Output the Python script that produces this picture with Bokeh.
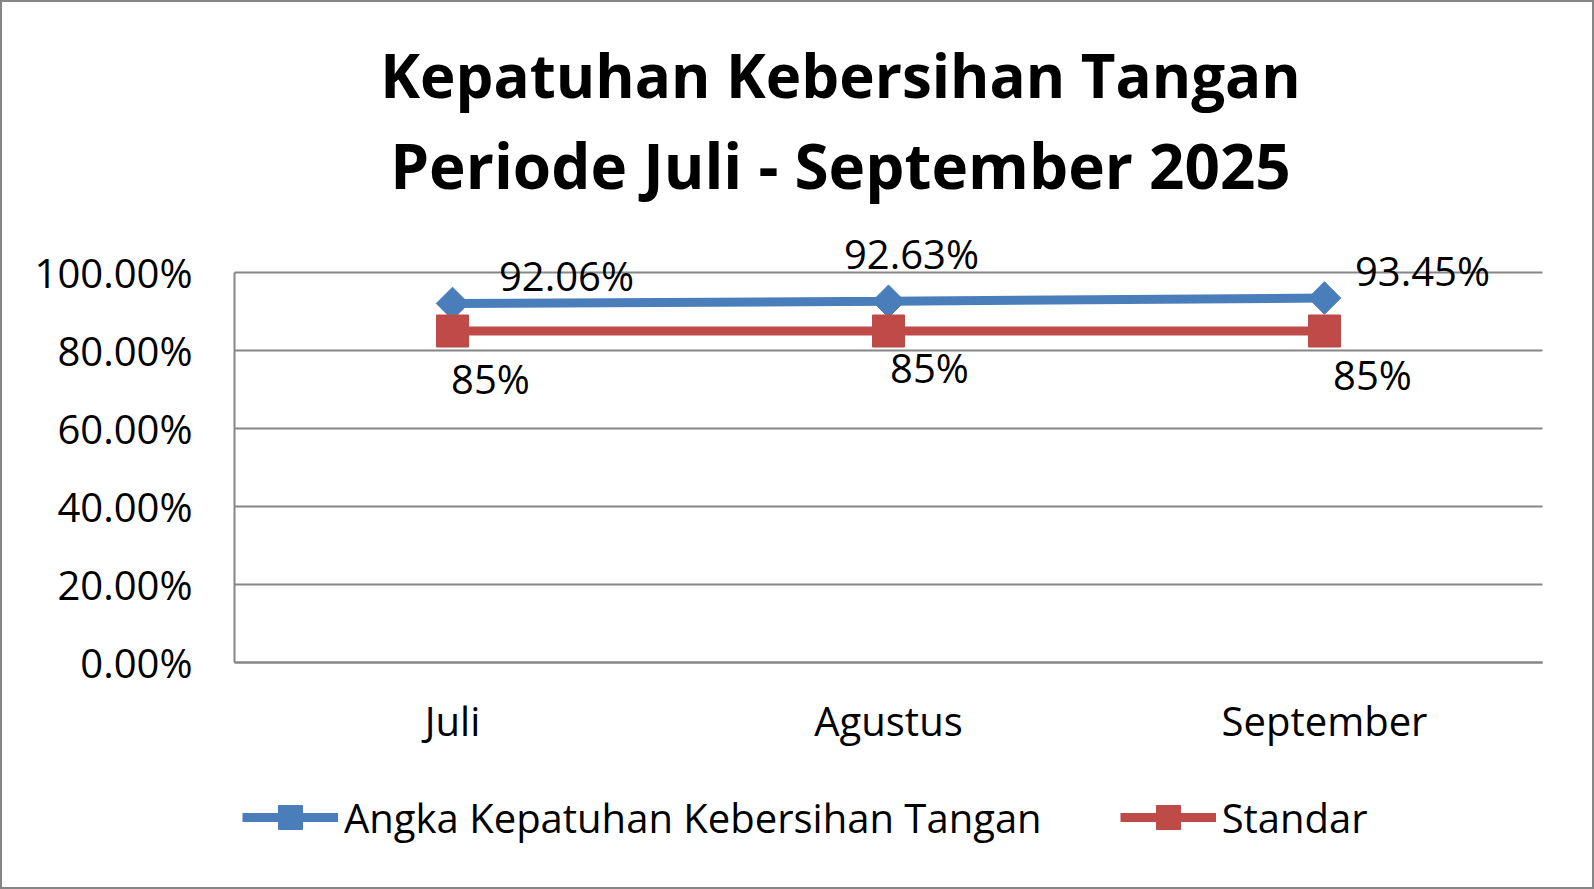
import numpy as np
from bokeh.plotting import figure
from bokeh.models import (ColumnDataSource, Range1d, NumeralTickFormatter, Legend,
                          FixedTicker, LabelSet, Label)
from bokeh.core.properties import value
from bokeh.embed import file_html
from bokeh.resources import INLINE

# data
months = ["Juli", "Agustus", "September"]
kepatuhan = [0.9206, 0.9263, 0.9345]
standar = [0.85, 0.85, 0.85]
kepatuhan_labels = ["92.06%", "92.63%", "93.45%"]
standar_labels = ["85%", "85%", "85%"]
y_ticks = [0, 0.2, 0.4, 0.6, 0.8, 1.0]
title_lines = ["Kepatuhan Kebersihan Tangan", "Periode Juli - September 2025"]
series_names = ["Angka Kepatuhan Kebersihan Tangan", "Standar"]

# label offsets (px) as placed in the original (dy: up is positive)
kep_dx = [114, 23, 98]
kep_dy = [28, 48, 28]
std_dx = [38, 41, 48]
std_dy = [-47, -36, -43]

FONT = "Open Sans"
GRID = "#868686"
BLUE = "#4A7EBB"
RED = "#BE4B48"

# page layout (pixels) -> the whole canvas is the frame, the axes are pinned
W, H = 1594, 889
PL, PR, PT, PB = 232, 1540, 270, 660   # plot area on the canvas
sx = (PR - PL) / 3
sy = (PB - PT) / 1.0
x_rng = Range1d(-0.5 - PL / sx, 2.5 + (W - PR) / sx)
y_rng = Range1d(-(H - PB) / sy, 1 + PT / sy)


def px_x(px):
    return x_rng.start + px / sx


def px_y(py):
    return y_rng.end - py / sy


xs = list(range(len(months)))
src_k = ColumnDataSource(dict(x=xs, y=kepatuhan, t=kepatuhan_labels, dx=kep_dx, dy=kep_dy))
src_s = ColumnDataSource(dict(x=xs, y=standar, t=standar_labels, dx=std_dx, dy=std_dy))

p = figure(width=W, height=H, x_range=x_rng, y_range=y_rng,
           output_backend="svg", toolbar_location=None, title=None, min_border=0)
p.styles = {"border": "2px solid #868686"}
p.outline_line_color = None
p.background_fill_color = "white"

# title (two lines)
for txt, py, fs in zip(title_lines, [72, 162], ["60px", "62px"]):
    p.add_layout(Label(x=px_x(838), y=px_y(py), text=txt, text_font=FONT,
                       text_font_size=fs, text_font_style="bold", text_color="black",
                       text_align="center", text_baseline="middle"))

# lines + markers
l1 = p.line("x", "y", source=src_k, line_color=BLUE, line_width=9)
m1 = p.scatter("x", "y", source=src_k, marker="square", angle=np.pi / 4, size=23,
               fill_color=BLUE, line_color=BLUE)
l2 = p.line("x", "y", source=src_s, line_color=RED, line_width=9)
m2 = p.scatter("x", "y", source=src_s, marker="square", size=32,
               fill_color=RED, line_color=RED)

# data labels
for src in (src_k, src_s):
    p.add_layout(LabelSet(x="x", y="y", text="t", source=src, x_offset="dx", y_offset="dy",
                          text_font=value(FONT), text_font_size="40px", text_color="black",
                          text_align="center", text_baseline="middle"))

# axes pinned to the plot area
p.yaxis.ticker = FixedTicker(ticks=y_ticks)
p.yaxis.formatter = NumeralTickFormatter(format="0.00%")
p.yaxis.fixed_location = -0.5
p.yaxis.bounds = (0, 1)
p.xaxis.ticker = FixedTicker(ticks=xs)
p.xaxis.major_label_overrides = {i: m for i, m in zip(xs, months)}
p.xaxis.fixed_location = 0
p.xaxis.bounds = (-0.5, 2.5)
for ax in (p.xaxis[0], p.yaxis[0]):
    ax.axis_line_color = GRID
    ax.axis_line_width = 2
    ax.major_tick_line_color = None
    ax.minor_tick_line_color = None
    ax.major_tick_out = 0
    ax.major_tick_in = 0
    ax.major_label_text_font = FONT
    ax.major_label_text_font_size = "40px"
    ax.major_label_text_color = "black"
p.yaxis.major_label_standoff = 42
p.xaxis.major_label_standoff = 30

p.xgrid.grid_line_color = None
p.ygrid.grid_line_color = GRID
p.ygrid.grid_line_width = 2
p.ygrid.cross_bounds = (-0.5, 2.5)

legend = Legend(items=[(series_names[0], [l1, m1]), (series_names[1], [l2, m2])],
                orientation="horizontal", location=(240, 44),
                label_text_font=FONT, label_text_font_size="40px",
                label_text_color="black", glyph_width=96, glyph_height=60,
                label_standoff=6, spacing=78, border_line_color=None,
                background_fill_alpha=0, margin=0, padding=5)
p.add_layout(legend, "center")

open("out.html", "w").write(file_html(p, INLINE))
